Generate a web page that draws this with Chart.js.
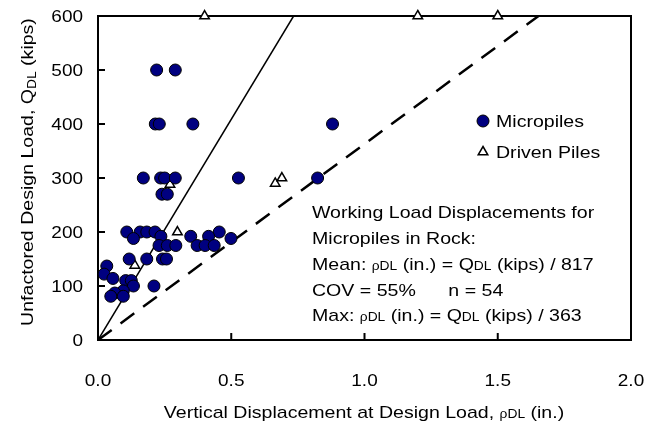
<!DOCTYPE html>
<html>
<head>
<meta charset="utf-8">
<script src="https://cdn.jsdelivr.net/npm/chart.js@4.4.0/dist/chart.umd.min.js"></script>
<style>
html, body { margin: 0; padding: 0; background: #fff; }
</style>
</head>
<body>
<canvas id="myChart" width="662" height="426"></canvas>
<script>
// micropiles (circles)
var microX = [0.22, 0.29,
  0.215, 0.23, 0.356, 0.88,
  0.17, 0.235, 0.25, 0.29, 0.527, 0.824,
  0.24, 0.26,
  0.108, 0.158, 0.183, 0.214, 0.455,
  0.236, 0.348, 0.415,
  0.133, 0.499,
  0.229, 0.26, 0.292, 0.372, 0.402, 0.436,
  0.117, 0.183, 0.242, 0.257,
  0.033, 0.023, 0.056, 0.104, 0.125,
  0.133, 0.21, 0.095, 0.063, 0.048, 0.095];
var microY = [500, 500,
  400, 400, 400, 400,
  300, 300, 300, 300, 300, 300,
  270, 270,
  200, 200, 200, 200, 200,
  192, 192, 192,
  188, 188,
  175, 175, 175, 175, 175, 175,
  150, 150, 150, 150,
  137, 122, 114, 110, 110,
  100, 100, 91, 87, 81, 81];
// driven piles (triangles)
var drivenX = [0.4, 1.2, 1.5, 0.27, 0.665, 0.69, 0.298, 0.138];
var drivenY = [600, 600, 600, 288, 290, 300, 200, 138];
// mean and max lines (end points)
var meanLineX = [0, 0.734];
var meanLineY = [0, 600];
var maxLineX = [0, 1.653];
var maxLineY = [0, 600];
// ticks
var xTicks = [0, 0.5, 1.0, 1.5, 2.0];
var xTickLabels = ['0.0', '0.5', '1.0', '1.5', '2.0'];
var yTicks = [0, 100, 200, 300, 400, 500, 600];

var FONT = '"Liberation Sans", Arial, sans-serif';
var SX = 1.15;

function pts(xs, ys) {
  return xs.map(function(x, i) { return {x: x, y: ys[i]}; });
}

// draws mixed size text: parts = [[text, size, dy], ...]
function drawParts(ctx, x, y, parts, align, rot) {
  ctx.save();
  ctx.translate(x, y);
  if (rot) ctx.rotate(rot);
  ctx.scale(SX, 1);
  ctx.fillStyle = '#000';
  ctx.textBaseline = 'alphabetic';
  ctx.textAlign = 'left';
  var w = 0;
  parts.forEach(function(p) {
    ctx.font = p[1] + 'px ' + FONT;
    w += ctx.measureText(p[0]).width;
  });
  var cx = align == 'center' ? -w / 2 : (align == 'right' ? -w : 0);
  parts.forEach(function(p) {
    ctx.font = p[1] + 'px ' + FONT;
    ctx.fillText(p[0], cx, p[2] || 0);
    cx += ctx.measureText(p[0]).width;
  });
  ctx.restore();
}

var decor = {
  id: 'decor',
  beforeDatasetsDraw: function(chart) {
    var ctx = chart.ctx, a = chart.chartArea;
    var xs = chart.scales.x, ys = chart.scales.y;
    ctx.save();
    ctx.strokeStyle = '#000';
    ctx.lineWidth = 2;
    ctx.strokeRect(a.left, a.top, a.right - a.left, a.bottom - a.top);
    ctx.beginPath();
    yTicks.forEach(function(v) {
      var y = ys.getPixelForValue(v);
      ctx.moveTo(a.left, y); ctx.lineTo(a.left + 7, y);
    });
    xTicks.forEach(function(v) {
      var x = xs.getPixelForValue(v);
      ctx.moveTo(x, a.bottom); ctx.lineTo(x, a.bottom - 7);
    });
    ctx.stroke();
    ctx.restore();
  },
  afterDraw: function(chart) {
    var ctx = chart.ctx, a = chart.chartArea;
    var xs = chart.scales.x, ys = chart.scales.y;
    // tick labels
    yTicks.forEach(function(v) {
      drawParts(ctx, a.left - 15, ys.getPixelForValue(v) + 6, [[String(v), 16.5]], 'right');
    });
    xTicks.forEach(function(v, i) {
      drawParts(ctx, xs.getPixelForValue(v), 386, [[xTickLabels[i], 16.5]], 'center');
    });
    // axis titles
    drawParts(ctx, 364, 418, [['Vertical Displacement at Design Load, ', 17], ['\u03C1DL', 12], [' (in.)', 17]], 'center');
    drawParts(ctx, 33, 172, [['Unfactored Design Load, Q', 17], ['DL', 12, 3], [' (kips)', 17]], 'center', -Math.PI / 2);
    // legend
    ctx.save();
    ctx.fillStyle = '#000080'; ctx.strokeStyle = '#000'; ctx.lineWidth = 1;
    ctx.beginPath(); ctx.arc(483, 121, 6, 0, Math.PI * 2); ctx.fill(); ctx.stroke();
    ctx.fillStyle = '#fff'; ctx.lineWidth = 1.5;
    ctx.beginPath(); ctx.moveTo(483, 146.5); ctx.lineTo(487.8, 154.8); ctx.lineTo(478.2, 154.8); ctx.closePath();
    ctx.fill(); ctx.stroke();
    ctx.restore();
    drawParts(ctx, 496, 127, [['Micropiles', 17]]);
    drawParts(ctx, 496, 158, [['Driven Piles', 17]]);
    // note
    drawParts(ctx, 312, 218, [['Working Load Displacements for', 17]]);
    drawParts(ctx, 312, 244, [['Micropiles in Rock:', 17]]);
    drawParts(ctx, 312, 270, [['Mean: ', 17], ['\u03C1DL', 12], [' (in.) = Q', 17], ['DL', 12], [' (kips) / 817', 17]]);
    drawParts(ctx, 312, 296, [['COV = 55%      n = 54', 17]]);
    drawParts(ctx, 312, 321, [['Max: ', 17], ['\u03C1DL', 12], [' (in.) = Q', 17], ['DL', 12], [' (kips) / 363', 17]]);
  }
};

var ctx = document.getElementById('myChart').getContext('2d');
var myChart = new Chart(ctx, {
  type: 'scatter',
  data: {
    datasets: [{
      label: 'Micropiles',
      data: pts(microX, microY),
      pointStyle: 'circle',
      pointRadius: 6,
      pointBackgroundColor: '#000080',
      pointBorderColor: '#000',
      pointBorderWidth: 1,
      clip: false
    }, {
      label: 'Driven Piles',
      data: pts(drivenX, drivenY),
      pointStyle: 'triangle',
      pointRadius: 5.5,
      pointBackgroundColor: '#fff',
      pointBorderColor: '#000',
      pointBorderWidth: 1.5,
      clip: false
    }, {
      label: 'Mean',
      data: pts(meanLineX, meanLineY),
      showLine: true,
      pointRadius: 0,
      borderColor: '#000',
      borderWidth: 1.5
    }, {
      label: 'Max',
      data: pts(maxLineX, maxLineY),
      showLine: true,
      pointRadius: 0,
      borderColor: '#000',
      borderWidth: 2.5,
      borderDash: [17, 11]
    }]
  },
  options: {
    responsive: false,
    animation: false,
    layout: { padding: { left: 0, right: 31, top: 16, bottom: 0 } },
    plugins: { legend: { display: false }, tooltip: { enabled: false } },
    scales: {
      x: {
        type: 'linear', min: 0, max: 2,
        ticks: { display: false, stepSize: 0.5 },
        grid: { display: false, drawTicks: false },
        border: { display: false },
        afterFit: function(s) { s.height = 86; }
      },
      y: {
        type: 'linear', min: 0, max: 600,
        ticks: { display: false, stepSize: 100 },
        grid: { display: false, drawTicks: false },
        border: { display: false },
        afterFit: function(s) { s.width = 98; }
      }
    }
  },
  plugins: [decor]
});
</script>
</body>
</html>
